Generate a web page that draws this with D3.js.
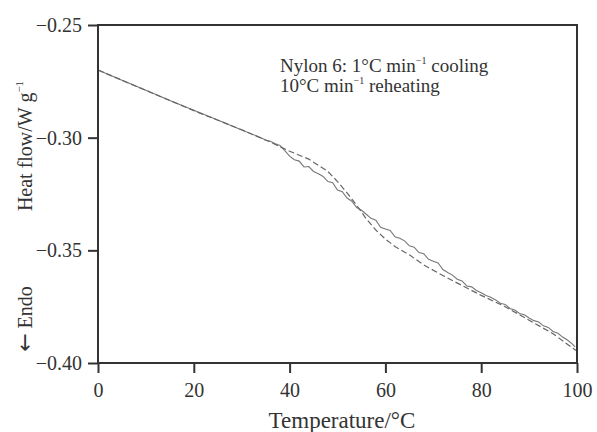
<!DOCTYPE html>
<html>
<head>
<meta charset="utf-8">
<script src="https://cdn.jsdelivr.net/npm/d3@7.9.0/dist/d3.min.js"></script>
<style>
  body { margin: 0; background: #fff; }
  svg text { font-family: "Liberation Serif", "DejaVu Serif", serif; fill: #333; }
</style>
</head>
<body>
<svg width="597" height="432"></svg>
<script>
// axis ticks
const xTicks = [0, 20, 40, 60, 80, 100];
const yTicks = [-0.25, -0.30, -0.35, -0.40];

// 10°C/min reheating after 1°C/min cooling, dashed trace
const dashedT = [0, 10, 20, 30, 36, 40, 44, 48, 50, 52, 54, 56, 58, 60, 62, 65, 68, 72, 76, 80, 85, 90, 95, 99.8];
const dashedQ = [-0.2700, -0.2790, -0.2880, -0.2965, -0.3020, -0.3060, -0.3095, -0.3150, -0.3195, -0.3245,
  -0.3300, -0.3360, -0.3410, -0.3450, -0.3483, -0.3520, -0.3565, -0.3612, -0.3656, -0.3700,
  -0.3750, -0.3810, -0.3870, -0.3945];

// solid (noisy) trace
const solidT = [0, 5, 10, 15, 20, 25, 30, 34, 35, 36, 37, 38, 39, 40, 41, 42, 43, 44, 45, 46, 47, 48, 49,
  50, 51, 52, 53, 54, 55, 56, 57, 58, 59, 60, 61, 62, 63, 64, 65, 66, 67, 68, 69, 70, 71, 72, 73, 74,
  75, 76, 77, 78, 79, 80, 81, 82, 83, 84, 85, 86, 87, 88, 89, 90, 91, 92, 93, 94, 95, 96, 97, 98, 99, 99.6];
const solidQ = [-0.2700, -0.2745, -0.2790, -0.2835, -0.2878, -0.2922, -0.2966, -0.3000, -0.3010, -0.3016,
  -0.3027, -0.3035, -0.3058, -0.3082, -0.3098, -0.3104, -0.3130, -0.3128, -0.3150, -0.3160, -0.3172,
  -0.3195, -0.3200, -0.3232, -0.3240, -0.3268, -0.3282, -0.3310, -0.3322, -0.3340, -0.3358, -0.3366,
  -0.3398, -0.3405, -0.3412, -0.3440, -0.3446, -0.3458, -0.3480, -0.3486, -0.3510, -0.3515, -0.3540,
  -0.3548, -0.3556, -0.3585, -0.3598, -0.3610, -0.3628, -0.3636, -0.3658, -0.3662, -0.3678, -0.3688,
  -0.3700, -0.3708, -0.3720, -0.3735, -0.3740, -0.3758, -0.3765, -0.3780, -0.3786, -0.3800, -0.3812,
  -0.3818, -0.3835, -0.3842, -0.3860, -0.3868, -0.3885, -0.3898, -0.3915, -0.3928];

const svg = d3.select('svg');
const plotLeft = 98, plotRight = 577, plotTop = 25, plotBottom = 363;

const x = d3.scaleLinear().domain([0, 100]).range([plotLeft, plotRight]);
const y = d3.scaleLinear().domain([-0.40, -0.25]).range([plotBottom, plotTop]);

const line = d3.line().x(d => x(d[0])).y(d => y(d[1]));

// curves
svg.append('path')
  .datum(solidT.map((t, i) => [t, solidQ[i]]))
  .attr('d', line)
  .attr('fill', 'none')
  .attr('stroke', '#777')
  .attr('stroke-width', 1.1);

svg.append('path')
  .datum(dashedT.map((t, i) => [t, dashedQ[i]]))
  .attr('d', line)
  .attr('fill', 'none')
  .attr('stroke', '#666')
  .attr('stroke-width', 1.2)
  .attr('stroke-dasharray', '6,3');

// frame
svg.append('rect')
  .attr('x', plotLeft).attr('y', plotTop)
  .attr('width', plotRight - plotLeft).attr('height', plotBottom - plotTop)
  .attr('fill', 'none')
  .attr('stroke', '#333')
  .attr('stroke-width', 2);

// axes
const xAxis = svg.append('g')
  .attr('transform', `translate(0,${plotBottom})`)
  .call(d3.axisBottom(x).tickValues(xTicks).tickSize(10).tickPadding(10).tickFormat(d3.format('d')));
const yAxis = svg.append('g')
  .attr('transform', `translate(${plotLeft},0)`)
  .call(d3.axisLeft(y).tickValues(yTicks).tickSize(10).tickPadding(6)
    .tickFormat(d => d3.format('.2f')(d).replace('-', '\u2212')));

[xAxis, yAxis].forEach(g => {
  g.select('.domain').remove();
  g.selectAll('line').attr('stroke', '#333').attr('stroke-width', 2);
  g.selectAll('text').attr('font-size', 20).attr('fill', '#333')
    .style('font-family', '"Liberation Serif", serif');
});

// axis titles
svg.append('text')
  .attr('x', 342).attr('y', 428)
  .attr('text-anchor', 'middle')
  .attr('font-size', 23)
  .text('Temperature/°C');

const yt = svg.append('text')
  .attr('transform', 'translate(32,146) rotate(-90)')
  .attr('text-anchor', 'middle')
  .attr('font-size', 20);
yt.append('tspan').text('Heat flow/W g');
yt.append('tspan').attr('font-size', 11).attr('dy', -9).text('\u22121');

const endo = svg.append('text')
  .attr('transform', 'translate(32,319) rotate(-90)')
  .attr('text-anchor', 'middle')
  .attr('font-size', 20);
endo.append('tspan').style('font-family', '"DejaVu Sans", sans-serif').attr('font-size', 22).text('\u2190');
endo.append('tspan').text(' Endo');

// annotation
const note = svg.append('text').attr('x', 280).attr('y', 72).attr('font-size', 19);
note.append('tspan').text('Nylon 6: 1°C min');
note.append('tspan').attr('font-size', 10).attr('dy', -8).text('\u22121');
note.append('tspan').attr('dy', 8).text(' cooling');

const note2 = svg.append('text').attr('x', 280).attr('y', 92).attr('font-size', 19);
note2.append('tspan').text('10°C min');
note2.append('tspan').attr('font-size', 10).attr('dy', -8).text('\u22121');
note2.append('tspan').attr('dy', 8).text(' reheating');
</script>
</body>
</html>
